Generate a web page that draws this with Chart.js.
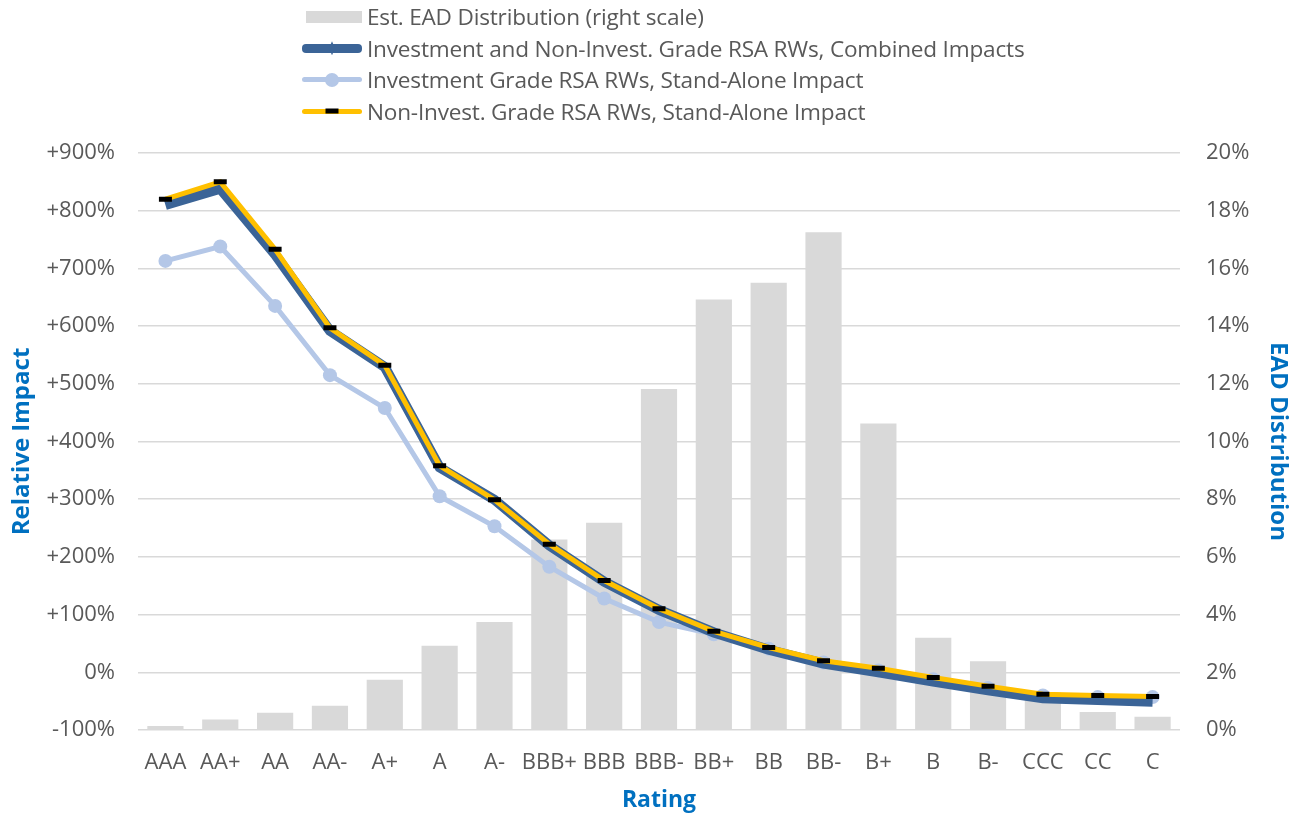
<!DOCTYPE html>
<html>
<head>
<meta charset="utf-8">
<script src="https://cdn.jsdelivr.net/npm/chart.js@4"></script>
<style>
  html, body { margin: 0; padding: 0; background: #fff; }
  #wrap { position: relative; width: 1301px; height: 817px; }
  #legend { position: absolute; left: 300px; top: 1px; font-family: "Open Sans", sans-serif; font-size: 22.6px; color: #595959; letter-spacing: -0.2px; }
  .item { height: 31.5px; display: flex; align-items: center; }
  .sym { width: 64px; height: 20px; position: relative; margin-right: 3px; }
  .bar { position: absolute; left: 6px; right: 2px; top: 4px; height: 12px; background: #d9d9d9; }
  .ln { position: absolute; left: 2px; right: 2px; top: 50%; border-radius: 4px; }
  .mk { position: absolute; left: 50%; top: 50%; transform: translate(-50%, -50%); }
</style>
</head>
<body>
<div id="wrap">
  <canvas id="chart" width="1301" height="817"></canvas>
  <div id="legend">
    <div class="item"><div class="sym"><div class="bar"></div></div>Est. EAD Distribution (right scale)</div>
    <div class="item"><div class="sym"><div class="ln" style="height:9px;margin-top:-4.5px;background:#3b6497"></div><div class="mk" style="width:6px;height:14px;background:#3b6497;clip-path:polygon(50% 0,100% 50%,50% 100%,0 50%)"></div></div>Investment and Non-Invest. Grade RSA RWs, Combined Impacts</div>
    <div class="item"><div class="sym"><div class="ln" style="height:5px;margin-top:-2.5px;background:#b4c7e7"></div><div class="mk" style="width:14px;height:14px;border-radius:50%;background:#b4c7e7"></div></div>Investment Grade RSA RWs, Stand-Alone Impact</div>
    <div class="item"><div class="sym"><div class="ln" style="height:5px;margin-top:-2.5px;background:#ffc000"></div><div class="mk" style="width:13px;height:5px;background:#000"></div></div>Non-Invest. Grade RSA RWs, Stand-Alone Impact</div>
  </div>
</div>
<script>
// categories
const ratings = ["AAA", "AA+", "AA", "AA-", "A+", "A", "A-", "BBB+", "BBB", "BBB-", "BB+", "BB", "BB-", "B+", "B", "B-", "CCC", "CC", "C"];

// EAD distribution, % (right scale)
const eadDist = [0.14, 0.36, 0.6, 0.84, 1.74, 2.92, 3.74, 6.6, 7.18, 11.82, 14.92, 15.5, 17.25, 10.62, 3.2, 2.38, 1.3, 0.62, 0.46];

// relative impact, % (left scale)
const combined = [810, 838, 724, 592, 529, 355, 299, 220, 157, 108, 69, 39, 15, 0, -16, -31, -45, -48, -51];
const investOnly = [713, 738, 635, 515, 458, 305, 253, 183, 128, 87, 66, 41, 17, 3, -12, -27, -40, -43, -43];
const nonInvestOnly = [820, 850, 733, 597, 532, 358, 299, 222, 159, 110, 71, 43, 20, 7, -9, -24, -38, -40, -42];

const tickColor = "#595959";
const titleColor = "#0070c0";
const gridColor = "#d9d9d9";
const font = "'Open Sans', sans-serif";

new Chart("chart", {
  type: "bar",
  data: {
    labels: ratings,
    datasets: [
      {
        label: "Non-Invest. Grade RSA RWs, Stand-Alone Impact",
        type: "line",
        data: nonInvestOnly,
        yAxisID: "y",
        borderColor: "#ffc000",
        borderWidth: 5,
        pointStyle: "line",
        pointRadius: 6.5,
        pointBorderColor: "#000",
        pointBorderWidth: 5,
        order: 0,
      },
      {
        label: "Investment and Non-Invest. Grade RSA RWs, Combined Impacts",
        type: "line",
        data: combined,
        yAxisID: "y",
        borderColor: "#3b6497",
        borderWidth: 10,
        pointRadius: 0,
        order: 1,
      },
      {
        label: "Investment Grade RSA RWs, Stand-Alone Impact",
        type: "line",
        data: investOnly,
        yAxisID: "y",
        borderColor: "#b4c7e7",
        backgroundColor: "#b4c7e7",
        borderWidth: 5,
        pointRadius: 7,
        pointBorderWidth: 0,
        order: 2,
      },
      {
        label: "Est. EAD Distribution (right scale)",
        data: eadDist,
        yAxisID: "y1",
        backgroundColor: "#d9d9d9",
        categoryPercentage: 1,
        barPercentage: 0.66,
        order: 3,
      },
    ],
  },
  options: {
    responsive: false,
    animation: false,
    layout: { padding: { top: 153, left: 0, right: 0, bottom: 0 } },
    plugins: { legend: { display: false }, tooltip: { enabled: false } },
    scales: {
      x: {
        afterFit: (scale) => { scale.height = 87; },
        grid: { display: false, drawTicks: false },
        border: { display: false },
        ticks: { color: tickColor, font: { family: font, size: 22 }, padding: 20, maxRotation: 0, autoSkip: false },
        title: { display: true, text: "Rating", color: titleColor, font: { family: font, size: 23, weight: "bold" }, padding: { top: 0, bottom: 3 } },
      },
      y: {
        position: "left",
        min: -100,
        max: 900,
        afterFit: (scale) => { scale.width = 138; },
        ticks: {
          stepSize: 100,
          color: tickColor,
          font: { family: font, size: 22 },
          padding: 23,
          callback: (v) => (v > 0 ? "+" + v + "%" : v + "%"),
        },
        grid: { color: gridColor, lineWidth: 1.5, drawTicks: false },
        border: { display: false },
        title: { display: true, text: "Relative Impact", color: titleColor, font: { family: font, size: 24, weight: "bold" }, padding: { top: 8, bottom: 0 } },
      },
      y1: {
        position: "right",
        min: 0,
        max: 20,
        afterFit: (scale) => { scale.width = 121; },
        ticks: { stepSize: 2, color: tickColor, font: { family: font, size: 22 }, padding: 26, callback: (v) => v + "%" },
        grid: { display: false, drawTicks: false },
        border: { display: false },
        title: { display: true, text: "EAD Distribution", color: titleColor, font: { family: font, size: 24, weight: "bold" }, padding: { top: 9, bottom: 0 } },
      },
    },
  },
});
</script>
</body>
</html>
